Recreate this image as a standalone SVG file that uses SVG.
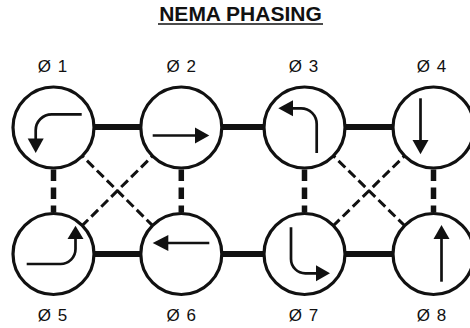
<svg xmlns="http://www.w3.org/2000/svg" width="470" height="328" viewBox="0 0 470 328">
<style>
.ring{fill:#fff;stroke:#111;stroke-width:3.2}
.shaft{fill:none;stroke:#111;stroke-width:2.7}
.head{fill:#111;stroke:none}
.solid{stroke:#111;stroke-width:6;fill:none}
.vdash{stroke:#111;stroke-width:5.5;stroke-dasharray:11.5 6.5;fill:none}
.ddash{stroke:#111;stroke-width:3;stroke-dasharray:9.5 4.5;fill:none}
.lbl{font-family:"Liberation Sans",Arial,sans-serif;font-size:17px;fill:#111;text-anchor:middle;word-spacing:2px}
.title{font-family:"Liberation Sans",Arial,sans-serif;font-size:21px;font-weight:bold;fill:#111;text-anchor:middle}
</style>
<rect width="470" height="328" fill="#fff"/>
<g id="title">
<text class="title" x="240.5" y="20.7">NEMA PHASING</text>
<line x1="158" y1="24" x2="323" y2="24" stroke="#111" stroke-width="1.7"/>
</g>
<g id="connectors">
<line class="solid" x1="53.5" y1="127" x2="181.3" y2="127"/>
<line class="solid" x1="181.3" y1="127" x2="304.5" y2="127"/>
<line class="solid" x1="304.5" y1="127" x2="433.5" y2="127"/>
<line class="solid" x1="53.5" y1="254" x2="181.3" y2="254"/>
<line class="solid" x1="181.3" y1="254" x2="304.5" y2="254"/>
<line class="solid" x1="304.5" y1="254" x2="433.5" y2="254"/>
<line class="vdash" x1="53.5" y1="169.5" x2="53.5" y2="212.5"/>
<line class="vdash" x1="181.3" y1="169.5" x2="181.3" y2="212.5"/>
<line class="vdash" x1="304.5" y1="169.5" x2="304.5" y2="212.5"/>
<line class="vdash" x1="433.5" y1="169.5" x2="433.5" y2="212.5"/>
<line class="ddash" x1="53.5" y1="127.5" x2="181.3" y2="254" stroke-dashoffset="8.9"/>
<line class="ddash" x1="181.3" y1="127.5" x2="53.5" y2="254" stroke-dashoffset="8.9"/>
<line class="ddash" x1="304.5" y1="127.5" x2="433.5" y2="254" stroke-dashoffset="8.4"/>
<line class="ddash" x1="433.5" y1="127.5" x2="304.5" y2="254" stroke-dashoffset="8.4"/>
</g>
<g id="phase1">
<circle class="ring" cx="53.5" cy="127.5" r="40.5"/>
<path class="shaft" d="M81.7,114.3 H51.7 A16,16 0 0 0 35.7,130.3 V140"/>
<polygon class="head" points="27.7,138.5 43.7,138.5 35.7,153"/>
<text class="lbl" x="52.5" y="72">Ø 1</text>
</g>
<g id="phase2">
<circle class="ring" cx="181.3" cy="127.5" r="40.5"/>
<path class="shaft" d="M152.7,135.5 H196"/>
<polygon class="head" points="195,127.5 195,143.5 209.3,135.5"/>
<text class="lbl" x="181.3" y="72">Ø 2</text>
</g>
<g id="phase3">
<circle class="ring" cx="304.5" cy="127.5" r="40.5"/>
<path class="shaft" d="M316.7,153 V124 A15.7,15.7 0 0 0 301,108.3 H292"/>
<polygon class="head" points="293,100.3 293,116.3 278.3,108.3"/>
<text class="lbl" x="303.5" y="72">Ø 3</text>
</g>
<g id="phase4">
<circle class="ring" cx="433.5" cy="127.5" r="40.5"/>
<path class="shaft" d="M420.5,98.3 V141"/>
<polygon class="head" points="412.5,140 428.5,140 420.5,154.3"/>
<text class="lbl" x="431.5" y="72">Ø 4</text>
</g>
<g id="phase5">
<circle class="ring" cx="53.5" cy="254" r="40.5"/>
<path class="shaft" d="M26.7,264 H60.5 A15,15 0 0 0 75.5,249 V238"/>
<polygon class="head" points="67.5,239 83.5,239 75.5,225.7"/>
<text class="lbl" x="52.5" y="320.5">Ø 5</text>
</g>
<g id="phase6">
<circle class="ring" cx="181.3" cy="254" r="40.5"/>
<path class="shaft" d="M209.3,243 H167"/>
<polygon class="head" points="168.3,235 168.3,251 152.7,243"/>
<text class="lbl" x="181.3" y="320.5">Ø 6</text>
</g>
<g id="phase7">
<circle class="ring" cx="304.5" cy="254" r="40.5"/>
<path class="shaft" d="M291,227.3 V259 A14.3,14.3 0 0 0 305.3,273.3 H317"/>
<polygon class="head" points="316,265.3 316,281.3 330,273.3"/>
<text class="lbl" x="303.5" y="320.5">Ø 7</text>
</g>
<g id="phase8">
<circle class="ring" cx="433.5" cy="254" r="40.5"/>
<path class="shaft" d="M441.5,281.7 V238"/>
<polygon class="head" points="433.5,239 449.5,239 441.5,225"/>
<text class="lbl" x="431.5" y="320.5">Ø 8</text>
</g>
</svg>
